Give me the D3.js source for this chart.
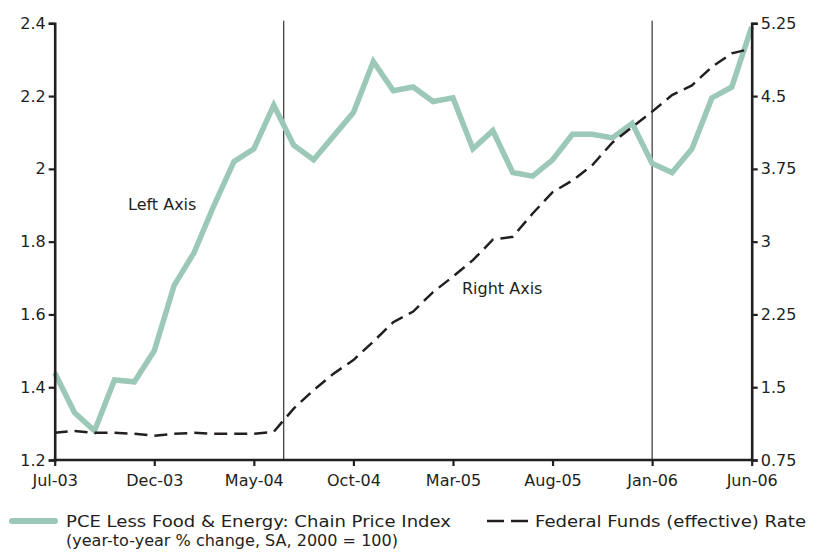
<!DOCTYPE html>
<html>
<head>
<meta charset="utf-8">
<script src="https://cdn.jsdelivr.net/npm/d3@7"></script>
<style>
  html, body { margin: 0; padding: 0; background: #fff; }
  svg { display: block; }
  text { font-family: "DejaVu Sans", sans-serif; fill: #231f20; }
</style>
</head>
<body>
<svg id="chart"></svg>
<script>
// ─── Data ──────────────────────────────────────────────
const months = [
  "Jul-03", "Aug-03", "Sep-03", "Oct-03", "Nov-03", "Dec-03",
  "Jan-04", "Feb-04", "Mar-04", "Apr-04", "May-04", "Jun-04",
  "Jul-04", "Aug-04", "Sep-04", "Oct-04", "Nov-04", "Dec-04",
  "Jan-05", "Feb-05", "Mar-05", "Apr-05", "May-05", "Jun-05",
  "Jul-05", "Aug-05", "Sep-05", "Oct-05", "Nov-05", "Dec-05",
  "Jan-06", "Feb-06", "Mar-06", "Apr-06", "May-06", "Jun-06"
];

// PCE less food & energy, yoy % (left axis)
const pce = [
  1.44, 1.33, 1.28, 1.42, 1.415, 1.50,
  1.68, 1.77, 1.90, 2.02, 2.055, 2.175,
  2.065, 2.025, 2.09, 2.155, 2.295, 2.215,
  2.225, 2.185, 2.195, 2.055, 2.105, 1.99,
  1.98, 2.025, 2.095, 2.095, 2.085, 2.125,
  2.015, 1.99, 2.055, 2.195, 2.225, 2.39
];

// Federal funds effective rate, % (right axis)
const fedFunds = [
  1.03, 1.05, 1.03, 1.03, 1.02, 1.00,
  1.02, 1.03, 1.02, 1.02, 1.02, 1.04,
  1.28, 1.47, 1.64, 1.78, 1.97, 2.17,
  2.28, 2.48, 2.64, 2.81, 3.02, 3.05,
  3.29, 3.51, 3.63, 3.79, 4.02, 4.18,
  4.34, 4.51, 4.61, 4.80, 4.94, 4.99
];

const xTickLabels = ["Jul-03", "Dec-03", "May-04", "Oct-04", "Mar-05", "Aug-05", "Jan-06", "Jun-06"];
const leftTicks = [1.2, 1.4, 1.6, 1.8, 2, 2.2, 2.4];
const rightTicks = [0.75, 1.5, 2.25, 3, 3.75, 4.5, 5.25];

// vertical reference lines: month + fraction of a month
const markerMonths = ["Jun-04", "Jan-06"];
const markerOffsets = [0.5, 0];

const legendLabels = [
  ["PCE Less Food & Energy: Chain Price Index", "(year-to-year % change, SA, 2000 = 100)"],
  ["Federal Funds (effective) Rate"]
];

// ─── Layout ────────────────────────────────────────────
const width = 819, height = 552;
const plot = { left: 54.7, right: 751.7, top: 23.3, bottom: 460 };
const GREEN = "#9cc8b8";
const INK = "#231f20";

const svg = d3.select("#chart").attr("width", width).attr("height", height);

const x = d3.scalePoint().domain(months).range([plot.left, plot.right]);
const yL = d3.scaleLinear().domain([1.2, 2.4]).range([plot.bottom, plot.top]);
const yR = d3.scaleLinear().domain([0.75, 5.25]).range([plot.bottom, plot.top]);

// Vertical marker lines
svg.append("g").selectAll("line")
  .data(markerMonths)
  .join("line")
  .attr("x1", (d, i) => x(d) + markerOffsets[i] * x.step())
  .attr("x2", (d, i) => x(d) + markerOffsets[i] * x.step())
  .attr("y1", plot.top - 2.5)
  .attr("y2", plot.bottom)
  .attr("stroke", INK)
  .attr("stroke-width", 1.1);

// Lines
const pceLine = d3.line().x((d, i) => x(months[i])).y(d => yL(d));
const ffLine = d3.line().x((d, i) => x(months[i])).y(d => yR(d));

svg.append("path")
  .datum(pce)
  .attr("d", pceLine)
  .attr("fill", "none")
  .attr("stroke", GREEN)
  .attr("stroke-width", 5.5)
  .attr("stroke-linejoin", "miter");

svg.append("path")
  .datum(fedFunds)
  .attr("d", ffLine)
  .attr("fill", "none")
  .attr("stroke", INK)
  .attr("stroke-width", 2.5)
  .attr("stroke-dasharray", "13,7");

// Axes
const fmt = v => String(v);

const leftAxis = svg.append("g")
  .attr("transform", `translate(${plot.left},0)`)
  .call(d3.axisLeft(yL).tickValues(leftTicks).tickFormat(fmt).tickSizeOuter(0).tickSize(6).tickPadding(3));

const rightAxis = svg.append("g")
  .attr("transform", `translate(${plot.right},0)`)
  .call(d3.axisRight(yR).tickValues(rightTicks).tickFormat(fmt).tickSizeOuter(0).tickSize(6).tickPadding(3));

const bottomAxis = svg.append("g")
  .attr("transform", `translate(0,${plot.bottom})`)
  .call(d3.axisBottom(x).tickValues(xTickLabels).tickSizeOuter(0).tickSize(6).tickPadding(9));

[leftAxis, rightAxis, bottomAxis].forEach(g => {
  g.select(".domain").attr("stroke", INK).attr("stroke-width", 2.6);
  g.selectAll(".tick line").attr("stroke", INK).attr("stroke-width", 2.2);
  g.selectAll(".tick text")
    .attr("font-family", "'DejaVu Sans', sans-serif")
    .attr("font-size", 16)
    .attr("fill", INK);
});
// extend bottom domain to meet both side axes
bottomAxis.select(".domain").attr("d", `M${plot.left - 1.3},0H${plot.right + 1.3}`);

// In-plot annotations
svg.append("text").attr("x", 128).attr("y", 210).attr("font-size", 16).text("Left Axis");
svg.append("text").attr("x", 462).attr("y", 294).attr("font-size", 16).text("Right Axis");

// Legend
const legend = svg.append("g");
legend.append("line")
  .attr("x1", 12).attr("x2", 55).attr("y1", 521).attr("y2", 521)
  .attr("stroke", GREEN).attr("stroke-width", 6).attr("stroke-linecap", "round");
legend.append("text").attr("x", 66).attr("y", 527).attr("font-size", 16)
  .attr("textLength", 385).attr("lengthAdjust", "spacingAndGlyphs")
  .text(legendLabels[0][0]);
legend.append("text").attr("x", 66).attr("y", 546).attr("font-size", 16)
  .attr("textLength", 332).attr("lengthAdjust", "spacingAndGlyphs")
  .text(legendLabels[0][1]);

legend.append("line")
  .attr("x1", 487).attr("x2", 529).attr("y1", 521).attr("y2", 521)
  .attr("stroke", INK).attr("stroke-width", 2.6).attr("stroke-dasharray", "17,7");
legend.append("text").attr("x", 535).attr("y", 527).attr("font-size", 16)
  .attr("textLength", 271).attr("lengthAdjust", "spacingAndGlyphs")
  .text(legendLabels[1][0]);
</script>
</body>
</html>
